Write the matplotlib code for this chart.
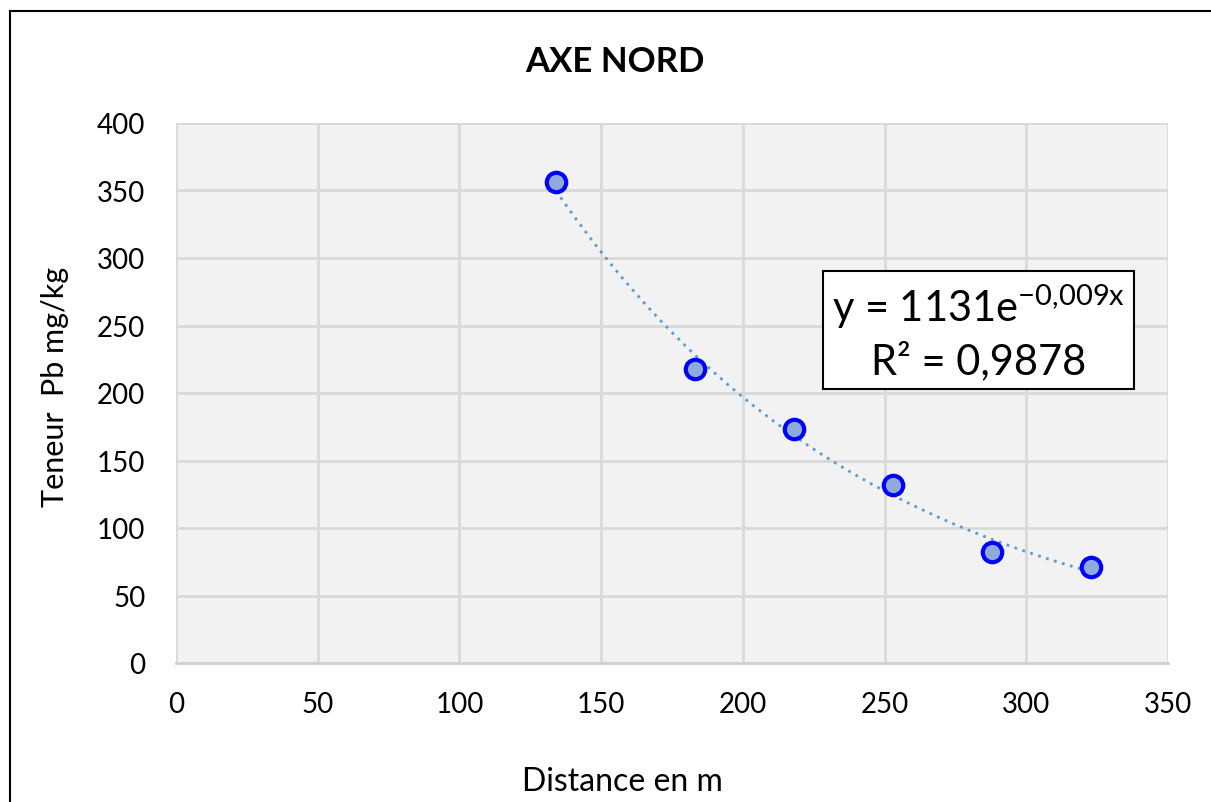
import numpy as np
import matplotlib
matplotlib.use("Agg")
import matplotlib.pyplot as plt
from matplotlib.lines import Line2D

plt.rcParams['font.family'] = ['Lato', 'DejaVu Sans']

distance = [134, 183, 218, 253, 288, 323]
teneur_pb = [356, 218, 173, 132, 82, 71]
x_ticks = [0, 50, 100, 150, 200, 250, 300, 350]
y_ticks = [0, 50, 100, 150, 200, 250, 300, 350, 400]

fig = plt.figure(figsize=(12.11, 8.03), dpi=100)
ax = fig.add_axes([176/1211, 1-664/803, (1168-176)/1211, (664-124)/803])
ax.set_facecolor('#F2F2F2')
ax.set_xlim(0, 350)
ax.set_ylim(0, 400)
ax.set_xticks(x_ticks)
ax.set_yticks(y_ticks)
ax.grid(True, color='#D9D9D9', linewidth=2)
ax.set_axisbelow(True)
for s in ['top', 'right', 'left']:
    ax.spines[s].set_visible(False)
ax.spines['bottom'].set_color('#D0D0D0')
ax.spines['bottom'].set_linewidth(2)
ax.tick_params(length=0, labelsize=20, colors='black')
ax.tick_params(axis='x', pad=20)
ax.tick_params(axis='y', pad=22)

# exponential trendline fitted to data
b, ln_a = np.polyfit(distance, np.log(teneur_pb), 1)
xs = np.linspace(min(distance), max(distance), 200)
ax.plot(xs, np.exp(ln_a) * np.exp(b * xs), linestyle=(0, (1, 2)), color='#5B9BD5',
        linewidth=2, zorder=2)

ax.plot(distance, teneur_pb, linestyle='none', marker='o', markersize=14,
        markerfacecolor='#8FAADC', markeredgecolor='#0000FF', markeredgewidth=3, zorder=3)

ax.text(0.809, 0.615, 'y = 1131e$^{\\mathregular{-0{,}009x}}$\nR² = 0,9878',
        transform=ax.transAxes, ha='center', va='center', fontsize=30, linespacing=1.3,
        bbox=dict(boxstyle='square,pad=0.22', facecolor='white', edgecolor='black', linewidth=1.5),
        zorder=5)

fig.text(615/1211, 1-62/803, 'AXE NORD', ha='center', va='center', fontsize=25, fontweight='bold')
fig.text(622/1211, 1-782/803, 'Distance en m', ha='center', va='center', fontsize=23)
fig.text(55/1211, 1-387/803, 'Teneur  Pb mg/kg', ha='center', va='center', fontsize=22, rotation=90)

fig.add_artist(Line2D([10/1211, 10/1211], [0, 1-12/803], transform=fig.transFigure, color='black', linewidth=1.5))
fig.add_artist(Line2D([10/1211, 1], [1-12/803, 1-12/803], transform=fig.transFigure, color='black', linewidth=1.5))

fig.savefig('out.png', dpi=100, facecolor='white')
